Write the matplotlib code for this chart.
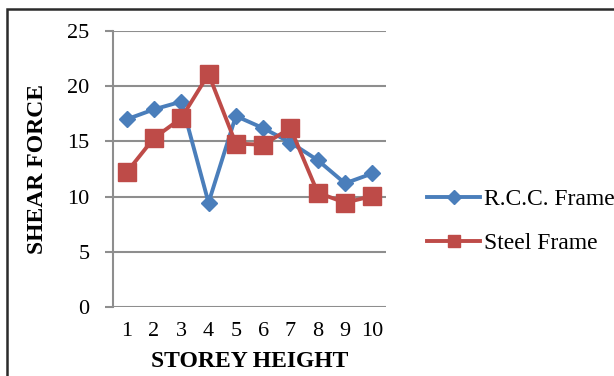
import matplotlib
matplotlib.use('Agg')
from matplotlib import pyplot as plt
from matplotlib.patches import Rectangle
from matplotlib.lines import Line2D

storeys = [1, 2, 3, 4, 5, 6, 7, 8, 9, 10]
rcc_frame = [17.0, 17.9, 18.6, 9.45, 17.3, 16.2, 14.9, 13.3, 11.2, 12.1]
steel_frame = [12.2, 15.3, 17.1, 21.1, 14.8, 14.7, 16.2, 10.35, 9.45, 10.05]
y_ticks = [0, 5, 10, 15, 20, 25]

W, H = 614, 376
plt.rcParams['font.family'] = ['Liberation Serif', 'DejaVu Serif']

fig = plt.figure(figsize=(W / 100, H / 100), dpi=100)

# outer frame of the chart box, runs off the right and bottom edges
fig.patches.append(Rectangle((7 / W, -0.02), 1.1, (H - 8.5) / H + 0.02,
                             transform=fig.transFigure, fill=False,
                             edgecolor='#2b2b2b', linewidth=1.8))

ax = fig.add_axes([113 / W, (H - 307) / H, 273 / W, 276 / H])

blue = '#4A7EBB'
red = '#BE4B48'
grid_col = '#8e8e8e'

ax.plot(storeys, rcc_frame, color=blue, linewidth=2.8, marker='D',
        markersize=8.5, zorder=3)
ax.plot(storeys, steel_frame, color=red, linewidth=2.8, marker='s',
        markersize=12.5, zorder=4)

ax.set_xlim(0.5, 10.5)
ax.set_ylim(0, 25)
ax.set_yticks(y_ticks)
ax.set_xticks(storeys)
ax.set_xticklabels([str(s) for s in storeys], fontsize=16)
ax.set_yticklabels([str(v) for v in y_ticks], fontsize=16)

ax.grid(axis='y', color=grid_col, linewidth=1.5)
ax.set_axisbelow(True)
for side in ['top', 'right', 'bottom']:
    ax.spines[side].set_visible(False)
ax.spines['left'].set_color(grid_col)
ax.spines['left'].set_linewidth(1.5)
ax.tick_params(axis='y', length=6, width=1.5, color=grid_col, pad=11)
ax.tick_params(axis='x', length=0, pad=11)

ax.set_xlabel('STOREY HEIGHT', fontsize=17, fontweight='bold', labelpad=7)
ax.set_ylabel('SHEAR FORCE', fontsize=17, fontweight='bold', labelpad=14)

handles = [
    Line2D([], [], color=blue, linewidth=2.8, marker='D', markersize=7),
    Line2D([], [], color=red, linewidth=2.8, marker='s', markersize=9),
]
fig.legend(handles, ['R.C.C. Frame', 'Steel Frame'],
           loc='center left', bbox_to_anchor=(427 / W, 1 - 221.5 / H),
           frameon=False, fontsize=17, borderpad=0, borderaxespad=0,
           handlelength=2.25, handletextpad=0.15, labelspacing=0.95)

fig.savefig('out.png', dpi=100)
plt.close(fig)
